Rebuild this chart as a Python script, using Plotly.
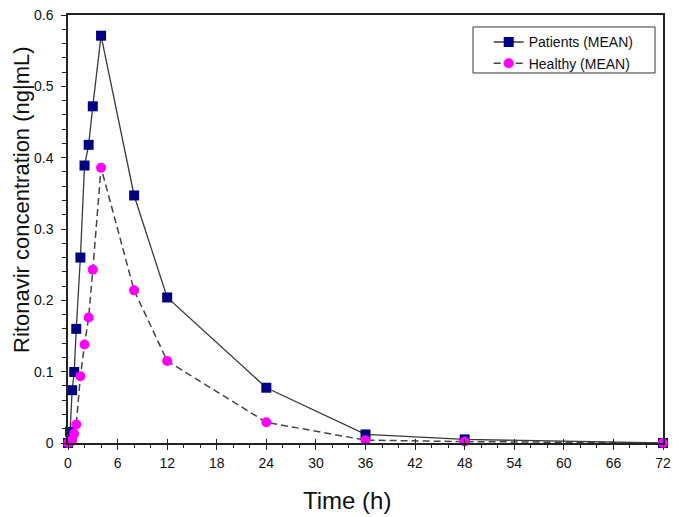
import plotly.graph_objects as go

time_h = [0, 0.25, 0.5, 0.75, 1, 1.5, 2, 2.5, 3, 4, 8, 12, 24, 36, 48, 72]
patients_mean = [0.0, 0.0156, 0.074, 0.0995, 0.160, 0.260, 0.389, 0.418, 0.472, 0.571,
                 0.347, 0.204, 0.0775, 0.012, 0.005, 0.0]
healthy_mean = [0.0, 0.001, 0.004, 0.013, 0.026, 0.0936, 0.138, 0.176, 0.243, 0.386,
                0.214, 0.115, 0.029, 0.004, 0.002, 0.0]

x_ticks = [0, 6, 12, 18, 24, 30, 36, 42, 48, 54, 60, 66, 72]
y_ticks = [0, 0.1, 0.2, 0.3, 0.4, 0.5, 0.6]
y_tick_text = ["0", "0.1", "0.2", "0.3", "0.4", "0.5", "0.6"]

FONT = "Arial"
AX = "#222222"

fig = go.Figure()
fig.add_trace(go.Scatter(
    x=time_h, y=patients_mean, mode="lines+markers", name="Patients (MEAN)",
    line=dict(color="#3a3a3a", width=1.3),
    marker=dict(symbol="square", size=10, color="#000080"),
    cliponaxis=False))
fig.add_trace(go.Scatter(
    x=time_h, y=healthy_mean, mode="lines+markers", name="Healthy (MEAN)",
    line=dict(color="#444444", width=1.5, dash="7px,4px"),
    marker=dict(symbol="circle", size=10, color="#FF00FF"),
    cliponaxis=False))

# overlay axis that draws the upward part of the major x ticks
fig.add_trace(go.Scatter(x=[0, 72], y=[0, 0], xaxis="x2", mode="none",
                         showlegend=False, hoverinfo="skip"))

# the page body adds an 8px offset, so the figure is 672x509
fig.update_layout(
    width=672, height=509,
    margin=dict(l=60, r=17, t=7, b=74, autoexpand=False),
    plot_bgcolor="white", paper_bgcolor="white",
    font=dict(family=FONT, color="#111111", size=14),
    xaxis=dict(range=[0, 72], tickvals=x_ticks, showgrid=False, zeroline=False,
               showline=True, linecolor=AX, linewidth=1.5, mirror=True,
               ticks="outside", ticklen=5, tickwidth=1.2, tickcolor=AX,
               minor=dict(dtick=2, ticks="outside", ticklen=3, tickcolor=AX),
               tickfont=dict(size=14, family=FONT), ticklabelstandoff=1,
               ticklabeloverflow="allow", automargin=False),
    xaxis2=dict(range=[0, 72], overlaying="x", side="bottom", tickvals=x_ticks,
                showticklabels=False, showgrid=False, zeroline=False, showline=False,
                ticks="inside", ticklen=4, tickwidth=1.2, tickcolor=AX,
                automargin=False),
    yaxis=dict(range=[0, 0.6], tickvals=y_ticks, ticktext=y_tick_text, showgrid=False,
               zeroline=False, showline=True, linecolor=AX, linewidth=1.5,
               mirror=True, ticks="outside", ticklen=5, tickwidth=1.2, tickcolor=AX,
               minor=dict(dtick=0.02, ticks="outside", ticklen=4, tickcolor=AX),
               tickfont=dict(size=14, family=FONT), ticklabelstandoff=5,
               ticklabeloverflow="allow", automargin=False),
    legend=dict(x=0.7071, y=0.9734, xanchor="left", yanchor="top",
                bgcolor="rgba(255,255,255,0)", borderwidth=0,
                font=dict(size=14, family=FONT, color="#111111")),
    showlegend=True,
    shapes=[dict(type="rect", xref="paper", yref="paper",
                 x0=0.6807, x1=0.9866, y0=0.8645, y1=0.9720,
                 line=dict(color="#333333", width=1))],
    annotations=[
        dict(text="Time (h)", xref="paper", yref="paper", x=0.469, y=-0.1332,
             xanchor="center", yanchor="middle", showarrow=False,
             font=dict(size=24, family=FONT, color="#111111")),
        dict(text="Ritonavir concentration (ng|mL)", xref="paper", yref="paper",
             x=-0.0773, y=0.568, xanchor="center", yanchor="middle", textangle=-90,
             showarrow=False, font=dict(size=22, family=FONT, color="#111111")),
    ],
)

fig.write_html("out.html")
